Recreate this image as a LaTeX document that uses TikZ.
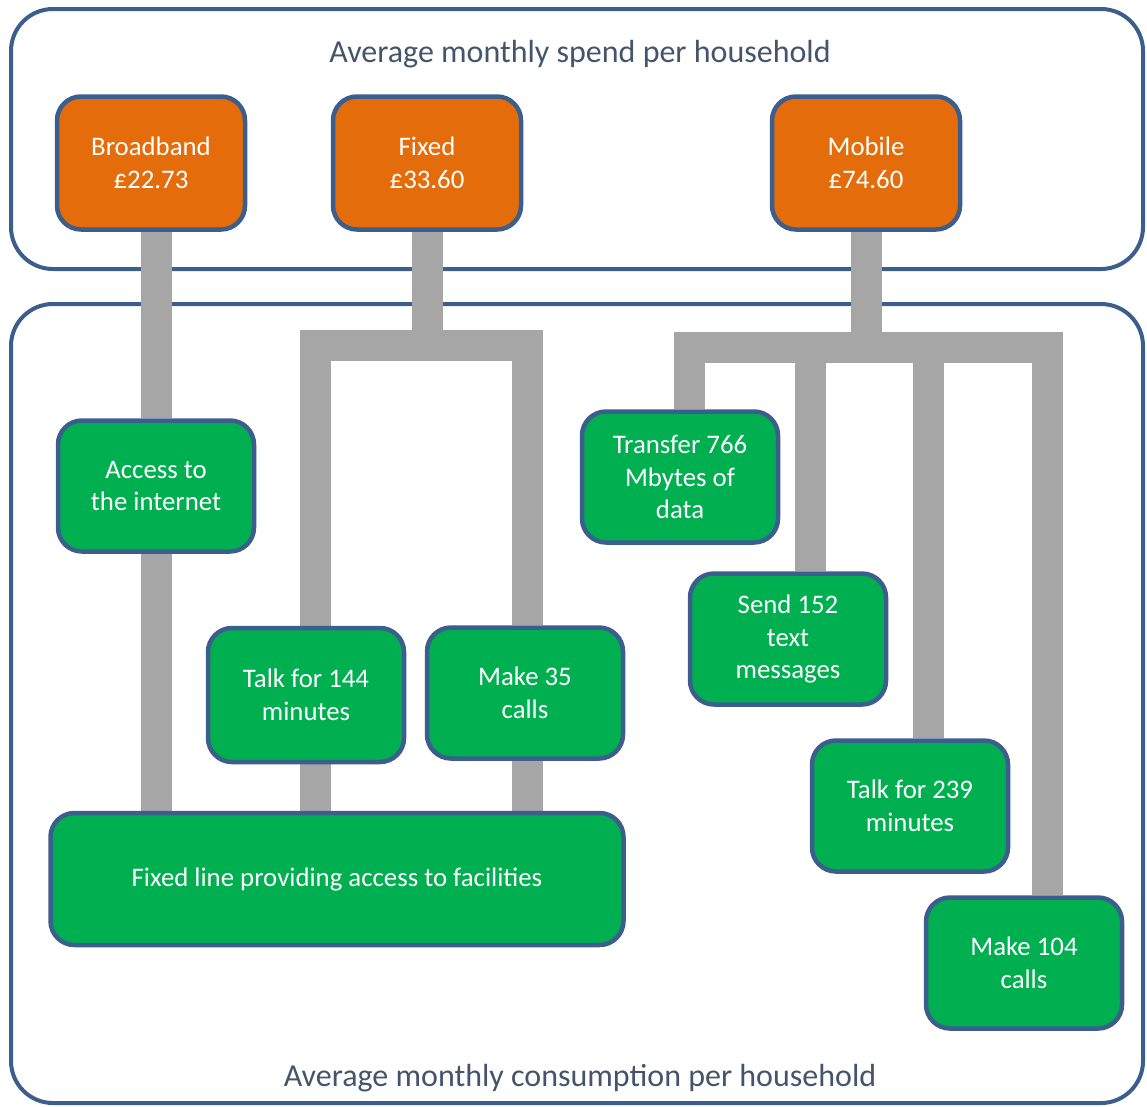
\documentclass[tikz,border=0pt]{standalone}
\usepackage{fontspec}
\setmainfont{Carlito}
\usetikzlibrary{positioning}
\definecolor{frameblue}{HTML}{3B5E8C}
\definecolor{spendorange}{HTML}{E46C0A}
\definecolor{usegreen}{HTML}{00B050}
\definecolor{linkgray}{HTML}{A6A6A6}
\definecolor{titleslate}{HTML}{44546A}
\pgfdeclarelayer{frames}
\pgfdeclarelayer{links}
\pgfsetlayers{frames,links,main}
\begin{document}
\begin{tikzpicture}[x=1pt,y=-1pt,
    frame/.style={draw=frameblue,line width=4pt,rounded corners=42pt},
    heading/.style={text=titleslate,font=\fontsize{32}{38}\selectfont},
    spendbox/.style={draw=frameblue,line width=4.5pt,fill=spendorange,rounded corners=24pt,
      minimum width=188pt,minimum height=133pt,align=center,text=white,
      font=\fontsize{26.8}{32.5}\selectfont},
    usebox/.style={draw=frameblue,line width=4.5pt,fill=usegreen,rounded corners=24pt,
      minimum width=196pt,minimum height=131pt,align=center,text=white,
      font=\fontsize{26.8}{32.5}\selectfont},
    link/.style={draw=linkgray,line width=31pt,line join=miter}]
    \useasboundingbox (0,0) rectangle (1147,1106);

    % outer panels
    \begin{pgfonlayer}{frames}
      \draw[frame] (11,9) rectangle (1143,269);
      \draw[frame] (11,304) rectangle (1143,1103);
    \end{pgfonlayer}
    \node[heading] (spendlbl) at (580,54) {Average monthly spend per household};
    \node[heading] (uselbl) at (580,1078) {Average monthly consumption per household};

    % spend
    \node[spendbox] (bband) at (151,163) {Broadband\\£22.73};
    \node[spendbox] (fixed) at (427,163) {Fixed\\£33.60};
    \node[spendbox] (mobile) at (866,163) {Mobile\\£74.60};

    % consumption
    \node[usebox] (inet) at (156,486) {Access to\\the internet};
    \node[usebox,minimum height=134pt] (talkA) at (306,695) {Talk for 144\\minutes};
    \node[usebox] (callA) at (525,693) {Make 35\\calls};
    \node[usebox,minimum width=573pt,minimum height=132pt] (fline) at (337,879)
      {Fixed line providing access to facilities};
    \node[usebox] (data) at (680,477) {Transfer 766\\Mbytes of\\data};
    \node[usebox] (texts) at (788,639) {Send 152\\text\\messages};
    \node[usebox] (talkB) at (910,806) {Talk for 239\\minutes};
    \node[usebox] (callB) at (1024,963) {Make 104\\calls};

    % joints of the trees
    \coordinate (fj) at (427,345);
    \coordinate (fl) at (315,345);
    \coordinate (fr) at (527,345);
    \coordinate (mj) at (866,347);
    \coordinate (m1) at (689,347);
    \coordinate (m2) at (810,347);
    \coordinate (m3) at (928,347);
    \coordinate (m4) at (1047,347);

    \begin{pgfonlayer}{links}
      \draw[link] (inet.north) -- (inet.north |- bband.south);
      \draw[link] (inet.south) -- (inet.south |- fline.north);
      \draw[link] (fixed.south) -- (fj);
      \draw[link] (talkA.north -| fl) -- (fl) -- (fr) -- (callA.north -| fr);
      \draw[link] (talkA.south -| fl) -- (fline.north -| fl);
      \draw[link] (callA.south -| fr) -- (fline.north -| fr);
      \draw[link] (mobile.south) -- (mj);
      \draw[link] (data.north -| m1) -- (m1) -- (m4) -- (callB.north -| m4);
      \draw[link] (m2) -- (texts.north -| m2);
      \draw[link] (m3) -- (talkB.north -| m3);
    \end{pgfonlayer}
\end{tikzpicture}
\end{document}
